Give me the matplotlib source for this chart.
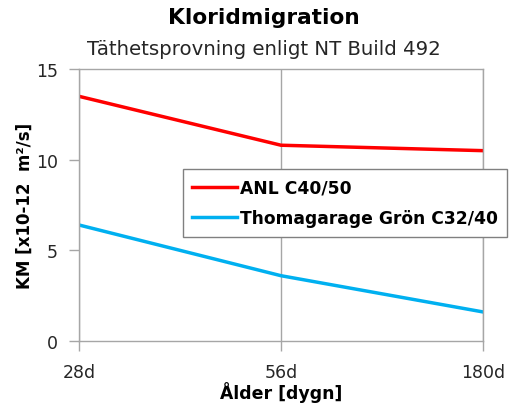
import matplotlib.pyplot as plt

# data
categories = ["28d", "56d", "180d"]
anl = [13.5, 10.8, 10.5]
thoma = [6.4, 3.6, 1.6]
series_names = ["ANL C40/50", "Thomagarage Grön C32/40"]

plt.rcParams['font.family'] = ['DejaVu Sans']

fig = plt.figure(figsize=(5.09, 4.10), dpi=100)
ax = fig.add_axes([0.155, 0.166, 0.794, 0.663])

x = range(len(categories))
ax.plot(x, anl, color='#FF0000', linewidth=2.5, label=series_names[0])
ax.plot(x, thoma, color='#00B0F0', linewidth=2.5, label=series_names[1])

ax.set_xlim(0, len(categories) - 1)
ax.set_ylim(0, 15)
ax.set_yticks([0, 5, 10, 15])
ax.set_xticks(list(x))
ax.set_xticklabels(categories)

# grid: only vertical lines, plus a gray frame
ax.grid(axis='x', color='#A6A6A6', linewidth=1)
for s in ax.spines.values():
    s.set_color('#A6A6A6')
    s.set_linewidth(1)
ax.tick_params(axis='both', colors='#A6A6A6', length=7, width=1, labelcolor='#262626', labelsize=12.5)
ax.tick_params(axis='x', pad=9)
ax.tick_params(axis='y', pad=8)

ax.set_ylabel("KM [x10-12  m²/s]", fontsize=12, fontweight='bold', labelpad=2)
# x label placed just under the tick labels, centred on the plot area
fig.text(0.552, 0.042, "Ålder [dygn]", ha='center', va='center', fontsize=12.5, fontweight='bold')

fig.text(0.519, 0.955, "Kloridmigration", ha='center', va='center', fontsize=15.6, fontweight='bold')
fig.text(0.519, 0.88, "Täthetsprovning enligt NT Build 492", ha='center', va='center', fontsize=14.2, color='#262626')

leg = ax.legend(loc='upper left', bbox_to_anchor=(0.257, 0.632),
                prop={'weight': 'bold', 'size': 12.3}, frameon=True, fancybox=False,
                edgecolor='#808080', framealpha=1, handlelength=2.6, handletextpad=0.2,
                borderpad=0.55, labelspacing=0.75, borderaxespad=0)
leg.get_frame().set_linewidth(1)

fig.savefig("out.png", dpi=100)
